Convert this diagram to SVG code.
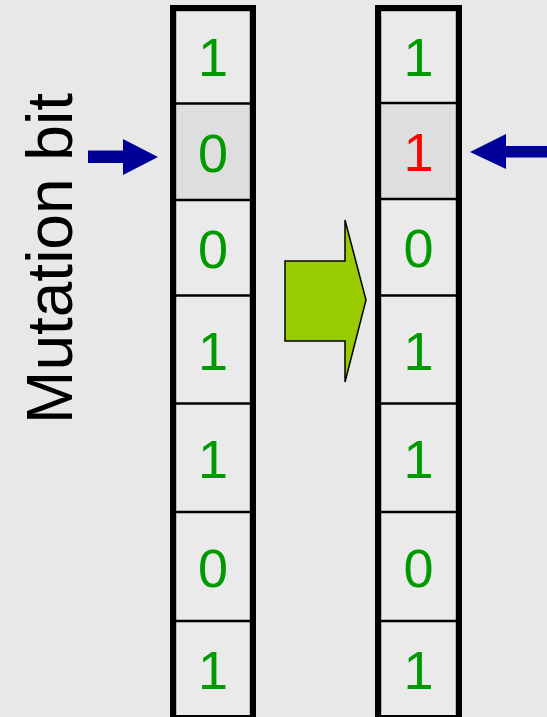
<svg xmlns="http://www.w3.org/2000/svg" width="547" height="717" viewBox="0 0 547 717">
<style>
.bg{fill:#e8e8e8}
.cell{fill:#eaeaea;stroke:#8a8a8a;stroke-width:1}
.hl{fill:#dedede}
.div{stroke:#000;stroke-width:2.5}
.frame{fill:none;stroke:#000;stroke-width:6}
.d{font-family:"Liberation Sans",Arial,sans-serif;font-size:54px;text-anchor:middle;fill:#009900}
.red{fill:#ff0000}
.lbl{font-family:"Liberation Sans",Arial,sans-serif;font-size:64px;text-anchor:middle;fill:#000}
.blue{fill:#000099}
</style>
<rect class="bg" x="0" y="0" width="547" height="717"/>
<g id="label">
<text class="lbl" x="72" y="258.5" transform="rotate(-90 72 258.5)">Mutation bit</text>
</g>
<g id="before">
<rect class="cell" x="176" y="11" width="74" height="92.5"/>
<rect class="cell hl" x="176" y="103.5" width="74" height="96.5"/>
<rect class="cell" x="176" y="200" width="74" height="95.5"/>
<rect class="cell" x="176" y="295.5" width="74" height="108"/>
<rect class="cell" x="176" y="403.5" width="74" height="108.5"/>
<rect class="cell" x="176" y="512" width="74" height="109"/>
<rect class="cell" x="176" y="621" width="74" height="96"/>
<line class="div" x1="173" y1="103.5" x2="253" y2="103.5"/>
<line class="div" x1="173" y1="200" x2="253" y2="200"/>
<line class="div" x1="173" y1="295.5" x2="253" y2="295.5"/>
<line class="div" x1="173" y1="403.5" x2="253" y2="403.5"/>
<line class="div" x1="173" y1="512" x2="253" y2="512"/>
<line class="div" x1="173" y1="621" x2="253" y2="621"/>
<rect class="frame" x="173" y="8" width="80" height="710"/>
<text class="d" x="213" y="75.5">1</text>
<text class="d" x="213" y="171.5">0</text>
<text class="d" x="213" y="267.5">0</text>
<text class="d" x="213" y="369.5">1</text>
<text class="d" x="213" y="477.5">1</text>
<text class="d" x="213" y="586.5">0</text>
<text class="d" x="213" y="689">1</text>
</g>
<g id="after">
<rect class="cell" x="381" y="11" width="75" height="92"/>
<rect class="cell hl" x="381" y="103" width="75" height="96"/>
<rect class="cell" x="381" y="199" width="75" height="96.5"/>
<rect class="cell" x="381" y="295.5" width="75" height="108"/>
<rect class="cell" x="381" y="403.5" width="75" height="108.5"/>
<rect class="cell" x="381" y="512" width="75" height="109"/>
<rect class="cell" x="381" y="621" width="75" height="96"/>
<line class="div" x1="378" y1="103" x2="459" y2="103"/>
<line class="div" x1="378" y1="199" x2="459" y2="199"/>
<line class="div" x1="378" y1="295.5" x2="459" y2="295.5"/>
<line class="div" x1="378" y1="403.5" x2="459" y2="403.5"/>
<line class="div" x1="378" y1="512" x2="459" y2="512"/>
<line class="div" x1="378" y1="621" x2="459" y2="621"/>
<rect class="frame" x="378" y="8" width="81" height="710"/>
<text class="d" x="418.5" y="75.5">1</text>
<text class="d red" x="418.5" y="170.5">1</text>
<text class="d" x="418.5" y="267">0</text>
<text class="d" x="418.5" y="369.5">1</text>
<text class="d" x="418.5" y="477.5">1</text>
<text class="d" x="418.5" y="586.5">0</text>
<text class="d" x="418.5" y="689">1</text>
</g>
<g id="connectors">
<polygon points="285,261 345,261 345,220 366,300 345,382 345,341 285,341" fill="#99cc00" stroke="#000" stroke-width="1.5" stroke-linejoin="miter"/>
<polygon class="blue" points="88,150.5 123,150.5 123,139 158,157 123,175 123,163 88,163"/>
<polygon class="blue" points="470,152 506,134 506,146 547,146 547,157.5 506,157.5 506,169"/>
</g>
</svg>
